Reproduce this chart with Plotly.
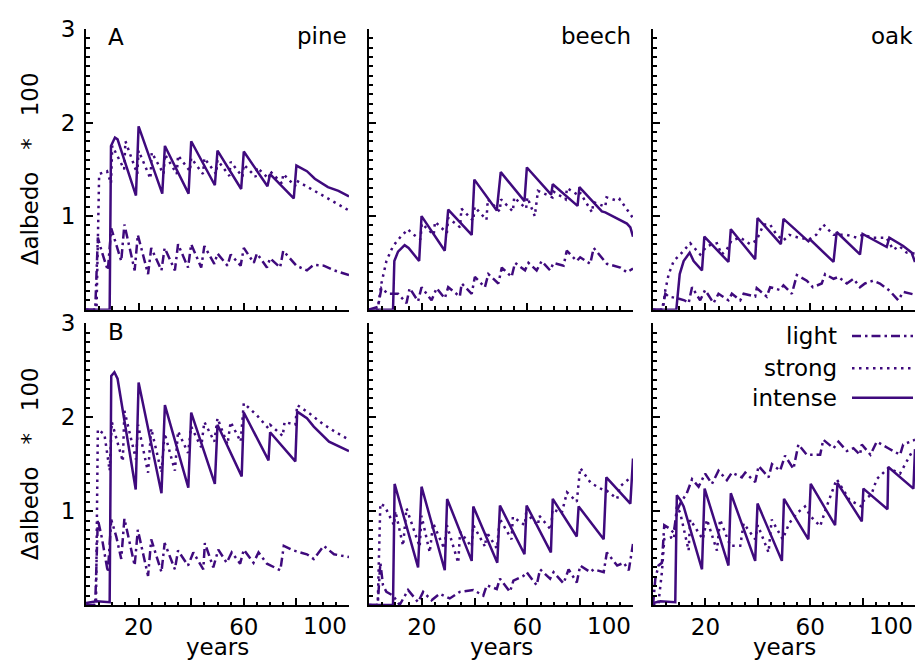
import plotly.graph_objects as go

# ---------------- data (years, Δalbedo*100) ----------------
PINE_A_INTENSE_X = [0, 9, 9.5, 11, 12, 19, 20, 29, 30, 39, 40, 49, 50, 59, 60, 69, 70, 79, 80, 84, 87, 92, 96, 100]
PINE_A_INTENSE_Y = [0, 0, 1.75, 1.84, 1.82, 1.22, 1.96, 1.24, 1.75, 1.24, 1.80, 1.33, 1.70, 1.29, 1.69, 1.32, 1.45, 1.19, 1.54, 1.48, 1.40, 1.31, 1.27, 1.21]
PINE_A_STRONG_X = [0, 4, 5, 8, 9.5, 10, 14.5, 15, 19.5, 20, 24.5, 25, 29.5, 30, 34.5, 35, 39.5, 40, 44.5, 45, 49.5, 50, 54.5, 55, 59.5, 60, 64.5, 65, 69.5, 70, 74.5, 75, 79.5, 80, 85, 90, 95, 100]
PINE_A_STRONG_Y = [0, 0, 1.45, 1.48, 1.35, 1.75, 1.50, 1.80, 1.45, 1.70, 1.40, 1.68, 1.45, 1.66, 1.45, 1.65, 1.48, 1.62, 1.45, 1.62, 1.45, 1.60, 1.43, 1.58, 1.42, 1.55, 1.42, 1.52, 1.40, 1.48, 1.35, 1.45, 1.32, 1.38, 1.30, 1.22, 1.14, 1.06]
PINE_A_LIGHT_X = [0, 3.5, 4.5, 6, 8.3, 9.6, 13.4, 14.6, 18.5, 19.7, 23.6, 24.8, 28.7, 29.9, 33.8, 35, 38.8, 40, 43.8, 45, 48.8, 50, 53.8, 55, 58.8, 60, 63.8, 65, 68.8, 70, 73.8, 75, 80, 84, 86.6, 90.4, 94.3, 100]
PINE_A_LIGHT_Y = [0, 0, 0.77, 0.62, 0.42, 0.87, 0.52, 0.91, 0.42, 0.80, 0.38, 0.66, 0.42, 0.66, 0.42, 0.70, 0.45, 0.70, 0.45, 0.68, 0.49, 0.60, 0.47, 0.59, 0.47, 0.66, 0.50, 0.60, 0.45, 0.55, 0.45, 0.63, 0.47, 0.42, 0.48, 0.47, 0.42, 0.37]

BEECH_A_INTENSE_X = [0, 9.1, 9.6, 11, 13.5, 15, 19, 19.9, 28.7, 30, 38.9, 39.9, 48.4, 49.9, 58.9, 59.8, 69, 69.6, 79, 79.7, 88.2, 89.5, 97.7, 99, 100]
BEECH_A_INTENSE_Y = [0, 0, 0.52, 0.62, 0.69, 0.66, 0.52, 1.00, 0.63, 1.07, 0.80, 1.39, 1.06, 1.47, 1.16, 1.52, 1.23, 1.34, 1.11, 1.31, 1.05, 1.04, 0.92, 0.88, 0.78]
BEECH_A_STRONG_X = [0, 3.3, 4.7, 6.6, 9.1, 12, 14.8, 16, 19.5, 20, 24.5, 25, 29.5, 30, 34.5, 35, 39.5, 40, 44.5, 45, 49.5, 50, 54.5, 55, 59.5, 60, 62.8, 64, 69.5, 70, 74.5, 75, 79.5, 80, 84.5, 85, 89.5, 90, 94.5, 95, 100]
BEECH_A_STRONG_Y = [0, 0, 0.28, 0.52, 0.68, 0.78, 0.86, 0.82, 0.75, 0.92, 0.80, 0.94, 0.82, 0.98, 0.88, 1.08, 0.95, 1.10, 0.96, 1.18, 1.05, 1.18, 1.05, 1.20, 1.08, 1.20, 1.00, 1.27, 1.20, 1.26, 1.18, 1.30, 1.22, 1.25, 1.04, 1.15, 1.10, 1.20, 1.16, 1.18, 0.98]
BEECH_A_LIGHT_X = [0, 3.4, 4.7, 7.2, 11, 14.2, 15.4, 18.6, 19.9, 23.7, 25.6, 28.7, 30, 34.4, 35.1, 38.9, 40.1, 43.9, 45.2, 49, 50.3, 54, 55.3, 59.1, 60.4, 63.5, 65.4, 68.6, 69.9, 73.7, 74.9, 78.7, 80, 83.8, 85.1, 90.1, 95.2, 97.7, 100]
BEECH_A_LIGHT_Y = [0, 0.03, 0.23, 0.17, 0.17, 0.07, 0.23, 0.09, 0.24, 0.10, 0.23, 0.12, 0.24, 0.14, 0.28, 0.17, 0.35, 0.24, 0.38, 0.28, 0.45, 0.35, 0.50, 0.42, 0.50, 0.42, 0.52, 0.42, 0.50, 0.47, 0.63, 0.52, 0.56, 0.49, 0.66, 0.49, 0.45, 0.40, 0.44]

OAK_A_INTENSE_X = [0, 8.9, 10.2, 11.7, 14, 15.5, 18.7, 19.6, 28.8, 29.7, 39, 39.9, 48.8, 49.8, 59.3, 60, 68.9, 70.1, 79, 80, 89.2, 90.2, 95.5, 98.7, 100]
OAK_A_INTENSE_Y = [0, 0, 0.38, 0.52, 0.61, 0.52, 0.42, 0.78, 0.51, 0.86, 0.54, 0.98, 0.70, 0.97, 0.73, 0.75, 0.51, 0.83, 0.59, 0.81, 0.67, 0.77, 0.68, 0.61, 0.51]
OAK_A_STRONG_X = [0, 3.8, 4.7, 6, 7.9, 10.4, 14.2, 15.8, 18, 20.6, 24.4, 26.2, 28.1, 30, 33.3, 37.1, 39.5, 42.2, 44.7, 47.2, 49.8, 52, 55.5, 59.5, 62.3, 65, 68.9, 73.9, 77.7, 80, 84, 89.1, 91.7, 94, 96.8, 100]
OAK_A_STRONG_Y = [0, 0, 0.21, 0.38, 0.52, 0.59, 0.71, 0.66, 0.59, 0.68, 0.71, 0.59, 0.64, 0.74, 0.77, 0.70, 0.74, 0.91, 0.91, 0.80, 0.74, 0.80, 0.77, 0.75, 0.80, 0.91, 0.80, 0.80, 0.77, 0.80, 0.77, 0.77, 0.64, 0.68, 0.61, 0.60]
OAK_A_LIGHT_X = [0, 3.4, 4.7, 6, 9.6, 12, 13.6, 14.9, 18, 19.9, 23.1, 25, 28.8, 30.1, 33.3, 34.6, 39, 39.6, 43.4, 44.7, 48.5, 49.8, 53, 54.9, 58.7, 61, 64.4, 65.7, 68.9, 70.8, 74, 76.5, 79, 80.9, 84, 86.6, 90.4, 93.6, 95.5, 100]
OAK_A_LIGHT_Y = [0, 0, 0.17, 0.14, 0.12, 0.10, 0.07, 0.24, 0.10, 0.21, 0.07, 0.17, 0.10, 0.17, 0.10, 0.17, 0.14, 0.23, 0.14, 0.24, 0.21, 0.26, 0.17, 0.37, 0.31, 0.24, 0.28, 0.38, 0.33, 0.35, 0.28, 0.33, 0.24, 0.28, 0.31, 0.28, 0.20, 0.10, 0.19, 0.16]

PINE_B_INTENSE_X = [0, 4, 9, 9.6, 10.8, 12, 18.9, 20, 28.7, 30, 38.9, 40, 49, 50, 59.2, 60, 69.4, 70, 79.6, 80.3, 84, 86.6, 92.4, 96.8, 100]
PINE_B_INTENSE_Y = [0.02, 0.04, 0.03, 2.44, 2.48, 2.41, 1.23, 2.37, 1.19, 2.13, 1.25, 2.05, 1.29, 1.92, 1.37, 2.05, 1.54, 1.84, 1.53, 2.06, 1.99, 1.90, 1.74, 1.68, 1.64]
PINE_B_STRONG_X = [0, 3.8, 4.5, 7, 9, 9.8, 14, 14.6, 19, 19.8, 23.6, 24.8, 28.7, 29.9, 33.8, 35, 38.8, 40, 43.8, 45, 48.8, 50, 53.8, 55, 58.8, 60, 65, 69.4, 70, 74.8, 75.5, 79.6, 80.3, 85, 90, 95, 100]
PINE_B_STRONG_Y = [0, 0, 1.87, 1.82, 1.43, 1.95, 1.53, 2.07, 1.55, 1.92, 1.41, 1.88, 1.41, 1.83, 1.43, 1.85, 1.62, 1.90, 1.68, 1.95, 1.74, 1.99, 1.71, 1.95, 1.74, 2.15, 2.02, 1.88, 1.92, 1.80, 1.95, 1.92, 2.13, 2.04, 1.93, 1.84, 1.76]
PINE_B_LIGHT_X = [0, 3.5, 4.5, 6, 8.3, 9.6, 11.5, 13.4, 14.6, 18.5, 19.7, 23.6, 24.8, 28.7, 29.9, 33.8, 35, 38.8, 40.8, 44.6, 45.2, 48.4, 50.3, 53.5, 55.4, 58.6, 60, 63.7, 65.6, 68.8, 73.9, 75.2, 79, 84, 86.6, 90.4, 94.3, 100]
PINE_B_LIGHT_Y = [0, 0, 0.91, 0.72, 0.35, 0.91, 0.73, 0.49, 0.92, 0.42, 0.80, 0.31, 0.70, 0.35, 0.66, 0.38, 0.58, 0.42, 0.56, 0.38, 0.66, 0.40, 0.59, 0.45, 0.56, 0.44, 0.59, 0.45, 0.56, 0.44, 0.37, 0.63, 0.58, 0.54, 0.49, 0.63, 0.54, 0.51]

BEECH_B_INTENSE_X = [0, 9.1, 9.7, 18.6, 19.9, 28.7, 29.6, 38.9, 39.5, 48.6, 49.6, 58.9, 59.7, 68.9, 69.6, 78.7, 79.4, 88.9, 89.9, 99, 100]
BEECH_B_INTENSE_Y = [0, 0, 1.29, 0.40, 1.26, 0.37, 1.13, 0.47, 1.05, 0.45, 1.06, 0.54, 1.06, 0.56, 1.13, 0.73, 1.05, 0.70, 1.36, 1.08, 1.56]
BEECH_B_STRONG_X = [0, 3.3, 4.3, 6, 9.5, 10, 12.9, 14.2, 19.2, 19.9, 23, 24.3, 28.5, 29.5, 33.8, 34.5, 38.9, 39.5, 44, 44.5, 48.5, 49.5, 54, 54.5, 59, 59.5, 64, 64.5, 69, 69.5, 73, 75, 78.7, 80, 84, 89, 90, 94, 95, 100]
BEECH_B_STRONG_Y = [0, 0, 1.08, 1.05, 0.85, 1.00, 0.63, 1.03, 0.62, 0.95, 0.56, 0.87, 0.60, 0.85, 0.45, 0.78, 0.62, 0.85, 0.62, 0.78, 0.60, 0.92, 0.70, 0.94, 0.85, 0.98, 0.85, 0.95, 0.80, 1.02, 0.98, 1.20, 1.10, 1.46, 1.30, 1.22, 1.22, 1.13, 1.26, 1.38]
BEECH_B_LIGHT_X = [0, 3.3, 4.3, 5.3, 6.6, 9.1, 11.6, 14.8, 18.6, 20.5, 23.7, 26.8, 30.6, 34.4, 39.5, 43.3, 44.6, 48.4, 49.6, 53.4, 54.7, 58.5, 59.7, 63.5, 64.8, 68.6, 69.9, 73.7, 75.6, 78.7, 80, 83.8, 85.1, 88.9, 90.1, 94, 96.5, 98.4, 100]
BEECH_B_LIGHT_Y = [0, 0, 0.45, 0.21, 0.14, 0.10, 0.0, 0.16, 0.03, 0.14, 0.05, 0.12, 0.07, 0.14, 0.16, 0.10, 0.21, 0.17, 0.28, 0.14, 0.26, 0.31, 0.35, 0.21, 0.38, 0.28, 0.35, 0.23, 0.38, 0.24, 0.42, 0.35, 0.38, 0.35, 0.56, 0.42, 0.45, 0.37, 0.65]

OAK_B_INTENSE_X = [0, 2.8, 8.5, 9.1, 10.4, 11.7, 18.7, 19.7, 28.8, 29.7, 39, 39.9, 49.2, 50, 59.3, 60.2, 69.5, 70.4, 79.7, 80.3, 89.5, 89.8, 99.4, 100]
OAK_B_INTENSE_Y = [0.02, 0.04, 0.03, 1.17, 1.12, 1.05, 0.38, 1.24, 0.42, 1.19, 0.47, 1.08, 0.47, 1.13, 0.70, 1.29, 0.85, 1.30, 0.89, 1.24, 1.02, 1.47, 1.24, 1.66]
OAK_B_STRONG_X = [0, 2, 3.4, 4.3, 7, 8, 9.1, 10.4, 13.6, 14.2, 19, 20.6, 24.4, 25.6, 29.5, 33.3, 34.6, 39, 40, 44.1, 45.3, 49.5, 52, 55, 58, 60, 63.8, 66.3, 70.1, 75, 79.5, 80, 83.4, 85.4, 89.8, 94.3, 99, 100]
OAK_B_STRONG_Y = [0, 0, 0.35, 0.70, 0.72, 0.70, 1.05, 0.98, 0.58, 0.91, 0.70, 0.91, 0.58, 0.91, 0.63, 0.63, 0.87, 0.70, 0.85, 0.56, 0.91, 0.70, 0.87, 0.98, 1.05, 0.95, 0.84, 1.05, 1.34, 1.12, 1.05, 1.10, 1.18, 1.34, 1.46, 1.40, 1.64, 1.64]
OAK_B_LIGHT_X = [0, 0.9, 2.1, 3.4, 4.3, 6, 7.9, 9.1, 10.4, 12.9, 14.9, 17.4, 19.9, 22.5, 25, 28.2, 30.1, 33.9, 35.2, 39, 40.3, 44.1, 45.4, 48.5, 50.4, 53.6, 55.5, 58.7, 63.8, 65, 68.9, 70.8, 74, 76.5, 79, 79.7, 83, 85.4, 89.8, 94.3, 95.5, 100]
OAK_B_LIGHT_Y = [0, 0.28, 0.42, 0.45, 0.85, 0.82, 0.77, 1.00, 1.08, 1.19, 1.34, 1.26, 1.40, 1.29, 1.43, 1.33, 1.41, 1.36, 1.41, 1.31, 1.48, 1.36, 1.50, 1.43, 1.59, 1.45, 1.71, 1.60, 1.60, 1.76, 1.67, 1.74, 1.64, 1.67, 1.60, 1.71, 1.60, 1.74, 1.67, 1.60, 1.71, 1.76]

SPECIES = ["pine", "beech", "oak"]
ROW_LABELS = ["A", "B"]
SERIES_NAMES = ["light", "strong", "intense"]
X_TICK_VALS = [0, 20, 40, 60, 80, 100]
X_TICK_TEXT = ["", "20", "", "60", "", ""]
Y_TICK_VALS = [0, 1, 2, 3]
Y_TICK_TEXT = ["", "1", "2", "3"]

PANELS = [
    [(PINE_A_LIGHT_X, PINE_A_LIGHT_Y), (PINE_A_STRONG_X, PINE_A_STRONG_Y), (PINE_A_INTENSE_X, PINE_A_INTENSE_Y)],
    [(BEECH_A_LIGHT_X, BEECH_A_LIGHT_Y), (BEECH_A_STRONG_X, BEECH_A_STRONG_Y), (BEECH_A_INTENSE_X, BEECH_A_INTENSE_Y)],
    [(OAK_A_LIGHT_X, OAK_A_LIGHT_Y), (OAK_A_STRONG_X, OAK_A_STRONG_Y), (OAK_A_INTENSE_X, OAK_A_INTENSE_Y)],
    [(PINE_B_LIGHT_X, PINE_B_LIGHT_Y), (PINE_B_STRONG_X, PINE_B_STRONG_Y), (PINE_B_INTENSE_X, PINE_B_INTENSE_Y)],
    [(BEECH_B_LIGHT_X, BEECH_B_LIGHT_Y), (BEECH_B_STRONG_X, BEECH_B_STRONG_Y), (BEECH_B_INTENSE_X, BEECH_B_INTENSE_Y)],
    [(OAK_B_LIGHT_X, OAK_B_LIGHT_Y), (OAK_B_STRONG_X, OAK_B_STRONG_Y), (OAK_B_INTENSE_X, OAK_B_INTENSE_Y)],
]

# ---------------- styling ----------------
COLOR = "#3f0a7d"
FONT = "DejaVu Sans"
FS = 23
PAGE_OFF = 8                      # default body margin of the html page
W, H = 924 - PAGE_OFF, 661 - PAGE_OFF
ML, MR, MT, MB = 86 - PAGE_OFF, 9, 16 - PAGE_OFF, 56
PW, PH = W - ML - MR, H - MT - MB
PLOT_LEFT, PLOT_BOTTOM = 86, 605   # in page pixels


def px_x(p):
    return (p - PLOT_LEFT) / PW


def px_y(p):
    return (PLOT_BOTTOM - p) / PH


COL_DOM = [(86, 349), (369, 633), (653, 915)]
ROW_DOM = [(16, 303), (317, 605)]
DASHES = ["9px,4px,2.5px,4px", "2.5px,4.5px", "solid"]

fig = go.Figure()
layout = {}
annotations = []

for idx, series in enumerate(PANELS):
    r, c = divmod(idx, 3)
    n = idx + 1
    xa = "x" if n == 1 else f"x{n}"
    ya = "y" if n == 1 else f"y{n}"
    for (xs, ys), dash in zip(series, DASHES):
        fig.add_trace(go.Scatter(x=xs, y=ys, mode="lines", xaxis=xa, yaxis=ya,
                                 line=dict(color=COLOR, width=2.5, dash=dash),
                                 showlegend=False, hoverinfo="skip"))
    x0, x1 = COL_DOM[c]
    y0, y1 = ROW_DOM[r]
    axis_common = dict(showline=True, linecolor="black", linewidth=2, showgrid=False,
                       zeroline=False, ticks="inside", tickcolor="black", tickwidth=1.5,
                       ticklen=7, tickfont=dict(family=FONT, size=FS, color="black"))
    layout[f"xaxis{n if n > 1 else ''}"] = dict(
        axis_common, domain=[px_x(x0), px_x(x1)], anchor=ya, range=[0, 100],
        tickmode="array", tickvals=X_TICK_VALS, ticktext=X_TICK_TEXT,
        showticklabels=(r == 1),
        minor=dict(tickmode="linear", tick0=0, dtick=5, ticks="inside", ticklen=3.5,
                   tickcolor="black", tickwidth=1.5))
    layout[f"yaxis{n if n > 1 else ''}"] = dict(
        axis_common, domain=[px_y(y1), px_y(y0)], anchor=xa, range=[0, 3],
        tickmode="array", tickvals=Y_TICK_VALS, ticktext=Y_TICK_TEXT,
        showticklabels=(c == 0), ticklabelstandoff=4,
        minor=dict(tickmode="linear", tick0=0, dtick=0.1, ticks="inside", ticklen=3.5,
                   tickcolor="black", tickwidth=1.5))
    if r == 0:
        annotations.append(dict(text=SPECIES[c], xref=f"{xa} domain", yref=f"{ya} domain",
                                x=1.0, y=0.975, xanchor="right", yanchor="middle",
                                showarrow=False, font=dict(family=FONT, size=FS, color="black")))
    if c == 0:
        annotations.append(dict(text=ROW_LABELS[r], xref=f"{xa} domain", yref=f"{ya} domain",
                                x=0.075, y=0.97, xanchor="left", yanchor="middle",
                                showarrow=False, font=dict(family=FONT, size=FS, color="black")))
        annotations.append(dict(text="Δalbedo\u00a0\u00a0\u00a0*\u00a0\u00a0\u00a0100",
                                xref="paper", yref=f"{ya} domain", x=px_x(30), y=0.5,
                                xanchor="center", yanchor="middle", textangle=-90,
                                showarrow=False, font=dict(family=FONT, size=FS, color="black")))
    if r == 1:
        annotations.append(dict(text="years", xref=f"{xa} domain", yref="paper",
                                x=0.5, y=px_y(648), xanchor="center", yanchor="middle",
                                showarrow=False, font=dict(family=FONT, size=FS, color="black")))
        annotations.append(dict(text="100", xref=xa, yref="paper",
                                x=100, y=px_y(626), xanchor="right", yanchor="middle",
                                showarrow=False, font=dict(family=FONT, size=FS, color="black")))

# legend (bottom-right panel)
shapes = []
LEG_Y = [330, 363, 393]
for name, dash, ly in zip(SERIES_NAMES, DASHES, LEG_Y):
    annotations.append(dict(text=name, xref="paper", yref="paper", x=px_x(839), y=px_y(ly),
                            xanchor="right", yanchor="middle", showarrow=False,
                            font=dict(family=FONT, size=FS, color="black")))
    shapes.append(dict(type="line", xref="paper", yref="paper", x0=px_x(852), x1=px_x(913),
                       y0=px_y(ly), y1=px_y(ly), line=dict(color=COLOR, width=2.5, dash=dash)))

fig.update_layout(**layout)
fig.update_layout(width=W, height=H, margin=dict(l=ML, r=MR, t=MT, b=MB),
                  paper_bgcolor="white", plot_bgcolor="white",
                  annotations=annotations, shapes=shapes, showlegend=False,
                  font=dict(family=FONT, size=FS, color="black"))

fig.write_html("out.html")
